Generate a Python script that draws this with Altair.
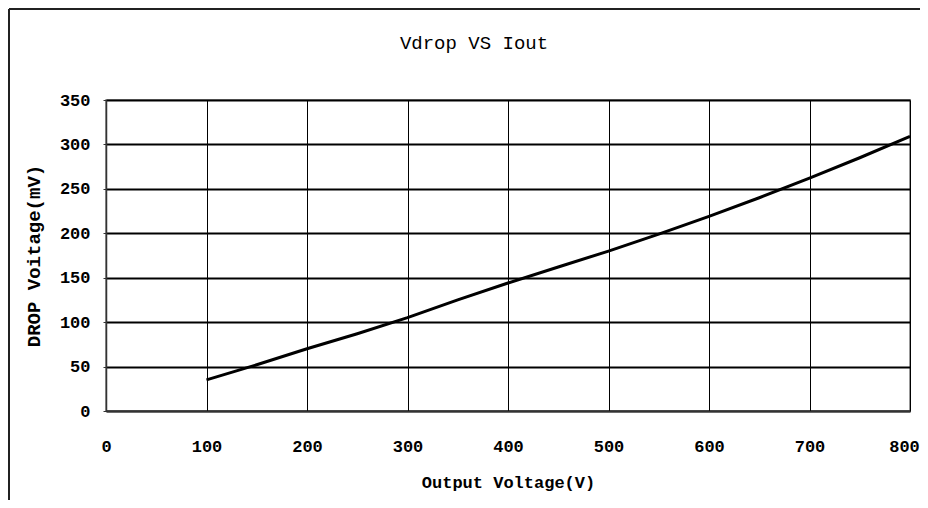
import altair as alt
import pandas as pd

output_voltage = [100, 150, 200, 250, 300, 350, 400, 450, 500, 550, 600, 650, 700, 750, 800]
drop_voltage = [35, 52, 70, 87, 105, 125, 144, 162, 180, 199, 219, 240, 262, 285, 309]
x_ticks = [0, 100, 200, 300, 400, 500, 600, 700, 800]
y_ticks = [0, 50, 100, 150, 200, 250, 300, 350]

df = pd.DataFrame({"x": output_voltage, "y": drop_voltage})

FONT = "Liberation Mono"

line = alt.Chart(df).mark_line(color="black", strokeWidth=3).encode(
    x=alt.X("x:Q", scale=alt.Scale(domain=[0, 800], nice=False),
            axis=alt.Axis(values=x_ticks, title="Output Voltage(V)", grid=True,
                          gridColor="black", gridWidth=1, gridOpacity=1,
                          ticks=False, labelPadding=27, titlePadding=20,
                          labelFlush=False,
                          labelOffset=alt.ExprRef("datum.value == 800 ? -6 : 0"),
                          labelFontSize=17, titleFontSize=17)),
    y=alt.Y("y:Q", scale=alt.Scale(domain=[0, 350], nice=False),
            axis=alt.Axis(values=y_ticks, title="DROP Voitage(mV)", grid=True,
                          gridColor="black", gridWidth=2, gridOpacity=1,
                          ticks=True, tickSize=3, tickColor="#333",
                          labelPadding=13, titlePadding=16,
                          labelFlush=False,
                          labelFontSize=17, titleFontSize=19)),
)

border_left = alt.Chart(df).mark_rule(color="#222", strokeWidth=1.5).encode(
    x=alt.value(-97), y=alt.value(-91), y2=alt.value(420)
)
border_top = alt.Chart(df).mark_rule(color="#222", strokeWidth=1.5).encode(
    x=alt.value(-97), x2=alt.value(830), y=alt.value(-91)
)

chart = alt.layer(border_left, border_top, line).properties(
    width=804, height=311,
    background="white",
    title=alt.Title("Vdrop VS Iout", fontSize=19, font=FONT, fontWeight="normal",
                    color="black", offset=-45, frame="group", dx=-34),
    autosize=alt.AutoSizeParams(type="none"),
    padding={"left": 98, "top": 92, "right": 10, "bottom": 89},
).configure_view(
    stroke="#777", strokeWidth=1.5
).configure_axis(
    labelFont=FONT, titleFont=FONT, labelFontWeight="bold", titleFontWeight="bold",
    labelColor="black", titleColor="black", domainColor="#333", domainWidth=1.5,
)

chart.save("out.html", embed_options={"renderer": "svg", "actions": False})
